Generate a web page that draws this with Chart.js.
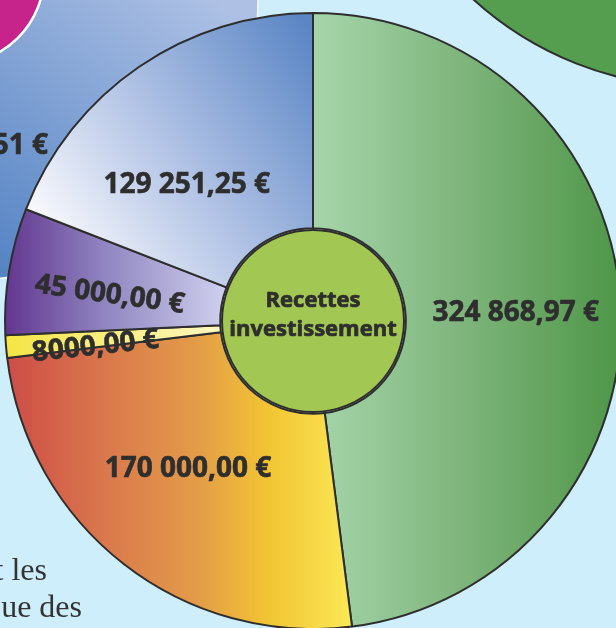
<!DOCTYPE html>
<html><head><meta charset="utf-8">
<script src="https://cdn.jsdelivr.net/npm/chart.js@4"></script>
<style>html,body{margin:0;padding:0;background:#cdeefa;overflow:hidden}#wrap{width:616px;height:628px;position:relative}canvas{display:block}</style>
</head><body><div id="wrap"><canvas id="c" width="616" height="628"></canvas></div>
<script>
// ---- data ----
const categories = ['Recette A', 'Recette B', 'Recette C', 'Recette D', 'Recette E'];
const values = [324868.97, 170000.00, 8000.00, 45000.00, 129251.25];
const centerTitle = ['Recettes', 'investissement'];
const backgroundLabel = '51 €';
const backgroundText = ['t les', 'ue des'];

// ---- styles ----
const R = 308;
const labelFont = 'bold 28px "Open Sans"';
const textColor = '#2e2e2e';
const labelPlacement = [
  {r: 203, dAngle: 0.85, rotate: false},
  {r: 192, dAngle: 2.7, rotate: false},
  {r: 219, dAngle: -1.4, rotate: true},
  {r: 205, dAngle: -1.4, rotate: true},
  {r: 187, dAngle: -8.1, rotate: false}
];

function fmt(v) {
  const parts = v.toFixed(2).split('.');
  let i = parts[0];
  if (i.length > 4) i = i.replace(/\B(?=(\d{3})+(?!\d))/g, ' ');
  return i + ',' + parts[1] + ' €';
}

function boldText(c, txt, x, y, w) {
  c.lineWidth = w; c.strokeStyle = c.fillStyle; c.lineJoin = 'round';
  c.strokeText(txt, x, y);
  c.fillText(txt, x, y);
}

function makeGradient(ctx2d, idx, cx, cy) {
  let g;
  switch (idx) {
    case 0:
      g = ctx2d.createLinearGradient(cx, 0, cx + R, 0);
      g.addColorStop(0, '#a6d5ab'); g.addColorStop(0.5, '#7db47a'); g.addColorStop(1, '#4e9648');
      break;
    case 1:
      g = ctx2d.createLinearGradient(cx - R, 0, cx + 42, 0);
      g.addColorStop(0, '#cd4c47'); g.addColorStop(0.3, '#da7a4c'); g.addColorStop(0.55, '#e39c48');
      g.addColorStop(0.75, '#f2c433'); g.addColorStop(1, '#fbe957');
      break;
    case 2:
      g = ctx2d.createLinearGradient(cx - R, 0, cx - 85, 0);
      g.addColorStop(0, '#f4e545'); g.addColorStop(1, '#fff8c5');
      break;
    case 3:
      g = ctx2d.createLinearGradient(cx - R, 0, cx - 88, 0);
      g.addColorStop(0, '#62368f'); g.addColorStop(0.45, '#8f85c0'); g.addColorStop(1, '#cfd0ee');
      break;
    default:
      g = ctx2d.createLinearGradient(cx - 285, cy - 105, cx - 10, cy - 300);
      g.addColorStop(0, '#fbfbfd'); g.addColorStop(0.45, '#b3c4e6'); g.addColorStop(1, '#5b86c5');
  }
  return g;
}

const decorPlugin = {
  id: 'decor',
  beforeDraw(chart) {
    const c = chart.ctx;
    c.save();
    c.fillStyle = '#cdeefa';
    c.fillRect(0, 0, chart.width, chart.height);
    // blue background circle
    const bg = c.createLinearGradient(220, 0, 0, 270);
    bg.addColorStop(0, '#aec1e5'); bg.addColorStop(1, '#5584c4');
    c.beginPath(); c.arc(-21, 0, 279, 0, Math.PI * 2);
    c.fillStyle = bg; c.fill();
    c.lineWidth = 1.5; c.strokeStyle = '#f4f8fc'; c.stroke();
    // magenta circle
    c.beginPath(); c.arc(-45, -25, 89, 0, Math.PI * 2);
    c.fillStyle = '#c6238b'; c.fill();
    c.lineWidth = 2.5; c.strokeStyle = '#ffffff'; c.stroke();
    // green circle top right
    c.beginPath(); c.arc(700, -250, 337, 0, Math.PI * 2);
    c.fillStyle = '#559d4f'; c.fill();
    c.lineWidth = 2; c.strokeStyle = '#2e2e2e'; c.stroke();
    // clipped label of the background chart
    c.fillStyle = textColor; c.font = labelFont; c.textAlign = 'right'; c.textBaseline = 'alphabetic';
    boldText(c, backgroundLabel, 48, 154, 0.6);
    // background body text
    c.font = '32px "Liberation Serif"'; c.fillStyle = '#333333';
    c.fillText(backgroundText[0], 47, 580);
    c.fillText(backgroundText[1], 82, 617);
    c.restore();
  },
  afterDatasetsDraw(chart) {
    const c = chart.ctx;
    const meta = chart.getDatasetMeta(0);
    const a0 = meta.data[0];
    const cx = a0.x, cy = a0.y;
    c.save();
    // centre disc
    c.beginPath(); c.arc(cx, cy, 91, 0, Math.PI * 2);
    c.fillStyle = '#a3c753'; c.fill();
    c.lineWidth = 2; c.strokeStyle = '#2e2e2e'; c.stroke();
    c.fillStyle = textColor; c.textAlign = 'center'; c.textBaseline = 'alphabetic';
    c.font = 'bold 22px "Open Sans"';
    boldText(c, centerTitle[0], cx, cy - 14, 0.7);
    boldText(c, centerTitle[1], cx, cy + 15, 0.7);
    // slice labels
    c.font = labelFont;
    meta.data.forEach((arc, i) => {
      const p = labelPlacement[i];
      const ang = (arc.startAngle + arc.endAngle) / 2 + p.dAngle * Math.PI / 180;
      const x = cx + Math.cos(ang) * p.r;
      const y = cy + Math.sin(ang) * p.r;
      c.save();
      c.translate(x, y);
      if (p.rotate) c.rotate(ang - Math.PI);
      boldText(c, fmt(values[i]), 0, 10, 0.6);
      c.restore();
    });
    c.restore();
  }
};

new Chart(document.getElementById('c'), {
  type: 'doughnut',
  data: {
    labels: categories,
    datasets: [{
      data: values,
      backgroundColor: (ctx) => {
        const a = ctx.chart.chartArea;
        if (!a) return '#888888';
        const cx = (a.left + a.right) / 2, cy = (a.top + a.bottom) / 2;
        return makeGradient(ctx.chart.ctx, ctx.dataIndex, cx, cy);
      },
      borderColor: '#2e2e2e',
      borderWidth: 2
    }]
  },
  options: {
    responsive: false,
    animation: false,
    events: [],
    radius: R,
    cutout: 91,
    layout: {padding: {left: 10, right: 0, top: 14, bottom: 0}},
    plugins: {legend: {display: false}, tooltip: {enabled: false}}
  },
  plugins: [decorPlugin]
});
</script>
</body></html>
